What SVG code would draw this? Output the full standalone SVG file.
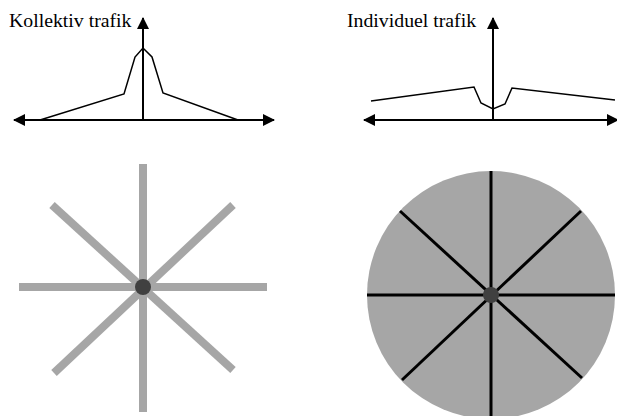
<svg xmlns="http://www.w3.org/2000/svg" width="617" height="416" viewBox="0 0 617 416">
<style>
.lbl{font-family:"Liberation Serif","Times New Roman",serif;font-size:19.8px;fill:#000}
.axis{stroke:#000;stroke-width:2;fill:none}
.curve{stroke:#000;stroke-width:1.5;fill:none;stroke-linejoin:miter}
.ray{stroke:#a6a6a6;stroke-width:8;fill:none}
.spoke{stroke:#000;stroke-width:3;fill:none}
.hub{fill:#404040}
</style>
<defs>
<marker id="ah" viewBox="0 0 12 12" refX="11" refY="6" markerWidth="12" markerHeight="12" markerUnits="userSpaceOnUse" orient="auto-start-reverse">
<path d="M0,0 L12,6 L0,12 Z" fill="#000"/>
</marker>
</defs>
<g id="chart-kollektiv">
<text class="lbl" x="9" y="27">Kollektiv trafik</text>
<line class="axis" x1="14" y1="120" x2="274" y2="120" marker-start="url(#ah)" marker-end="url(#ah)"/>
<line class="axis" x1="143" y1="120" x2="143" y2="18" marker-end="url(#ah)"/>
<polyline class="curve" points="40,120 124,94 135,57 143,48 152,57 163,93 238,120"/>
</g>
<g id="chart-individuel">
<text class="lbl" x="347" y="27">Individuel trafik</text>
<line class="axis" x1="364" y1="120" x2="618" y2="120" marker-start="url(#ah)" marker-end="url(#ah)"/>
<line class="axis" x1="493" y1="120" x2="493" y2="18" marker-end="url(#ah)"/>
<polyline class="curve" points="371,101 474,87 481,103 493,109 505,104 512,88 615,100"/>
</g>
<g id="star-network">
<line class="ray" x1="143" y1="164" x2="143" y2="412"/>
<line class="ray" x1="19" y1="287" x2="267" y2="287"/>
<line class="ray" x1="52" y1="205" x2="233" y2="370"/>
<line class="ray" x1="233" y1="205" x2="54" y2="373"/>
<circle class="hub" cx="143" cy="287" r="8"/>
</g>
<g id="disc-network">
<circle cx="491" cy="295" r="124" fill="#a6a6a6"/>
<line class="spoke" x1="491" y1="171" x2="491" y2="420"/>
<line class="spoke" x1="367" y1="295" x2="615" y2="295"/>
<line class="spoke" x1="400" y1="211" x2="582" y2="378"/>
<line class="spoke" x1="581" y1="211" x2="402" y2="380"/>
<circle class="hub" cx="491" cy="295" r="8"/>
</g>
</svg>
